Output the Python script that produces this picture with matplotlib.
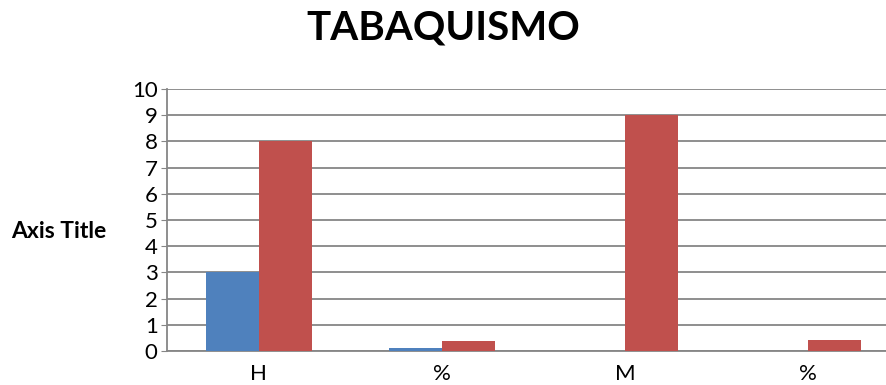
import numpy as np
import matplotlib.pyplot as plt

# Datos del gráfico
categorias = ['H', '%', 'M', '%']
serie_azul = [3, 0.13, 0, 0]
serie_roja = [8, 0.38, 9, 0.42]

plt.rcParams['font.family'] = ['Lato', 'DejaVu Sans']

fig = plt.figure(figsize=(8.86, 3.85), dpi=100)
ax = fig.add_axes([0.189, 0.088, 0.826, 0.681])

x = np.arange(len(categorias))
ancho = 0.29
ax.bar(x - ancho / 2, serie_azul, ancho, color='#4f81bd', zorder=3)
ax.bar(x + ancho / 2, serie_roja, ancho, color='#c0504d', zorder=3)

ax.set_xlim(-0.5, len(categorias) - 0.5)
ax.set_ylim(0, 10)
ax.set_yticks(range(0, 11))
ax.set_xticks(x)
ax.set_xticklabels(categorias)
ax.tick_params(axis='y', labelsize=16, length=4, color='#868686', pad=3)
ax.tick_params(axis='x', labelsize=16, length=0, pad=9)
ax.grid(axis='y', color='#868686', linewidth=1.3, zorder=0)

for lado in ['top', 'right']:
    ax.spines[lado].set_visible(False)
for lado in ['left', 'bottom']:
    ax.spines[lado].set_color('#868686')
    ax.spines[lado].set_linewidth(1.3)

ax.set_ylabel('Axis Title', fontsize=16.5, fontweight='bold', rotation=0,
              va='center', ha='center', labelpad=0)
ax.yaxis.set_label_coords(-0.149, 0.455)

fig.text(0.5, 0.928, 'TABAQUISMO', fontsize=29, fontweight='bold',
         ha='center', va='center')

fig.savefig('out.png', dpi=100)
